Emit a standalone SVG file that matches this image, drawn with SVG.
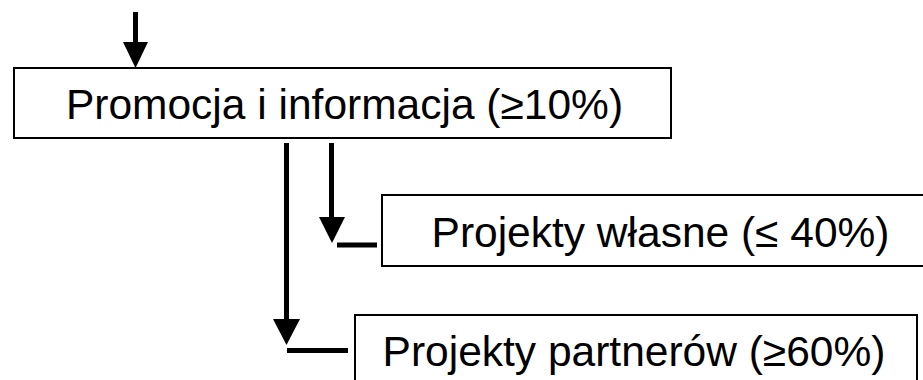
<svg xmlns="http://www.w3.org/2000/svg" width="923" height="380" viewBox="0 0 923 380">
<style>
.box{fill:#fff;stroke:#000;stroke-width:2}
.lbl{font-family:"Liberation Sans",Arial,sans-serif;font-size:42.5px;fill:#000;text-anchor:middle}
.ln{stroke:#000;stroke-width:5;fill:none}
.hd{fill:#000}
</style>
<rect width="923" height="380" fill="#fff"/>
<g id="connectors">
<line class="ln" x1="135.5" y1="12" x2="135.5" y2="44"/>
<polygon class="hd" points="123,42 148,42 135.5,68"/>
<line class="ln" x1="331.5" y1="143" x2="331.5" y2="219"/>
<polygon class="hd" points="319,217 345,217 332,243"/>
<line class="ln" x1="337" y1="245" x2="377" y2="245"/>
<line class="ln" x1="286.5" y1="143" x2="286.5" y2="321"/>
<polygon class="hd" points="273,319 300,319 286.5,345"/>
<line class="ln" x1="287" y1="350.5" x2="348" y2="350.5"/>
</g>
<g id="n1">
<rect class="box" x="14" y="68" width="657" height="70"/>
<text class="lbl" x="344.5" y="119">Promocja i informacja (≥10%)</text>
</g>
<g id="n2">
<rect class="box" x="382" y="195" width="560" height="71"/>
<text class="lbl" x="660.5" y="247">Projekty własne (≤ 40%)</text>
</g>
<g id="n3">
<rect class="box" x="355" y="315" width="562" height="75"/>
<text class="lbl" x="634" y="366">Projekty partnerów (≥60%)</text>
</g>
</svg>
